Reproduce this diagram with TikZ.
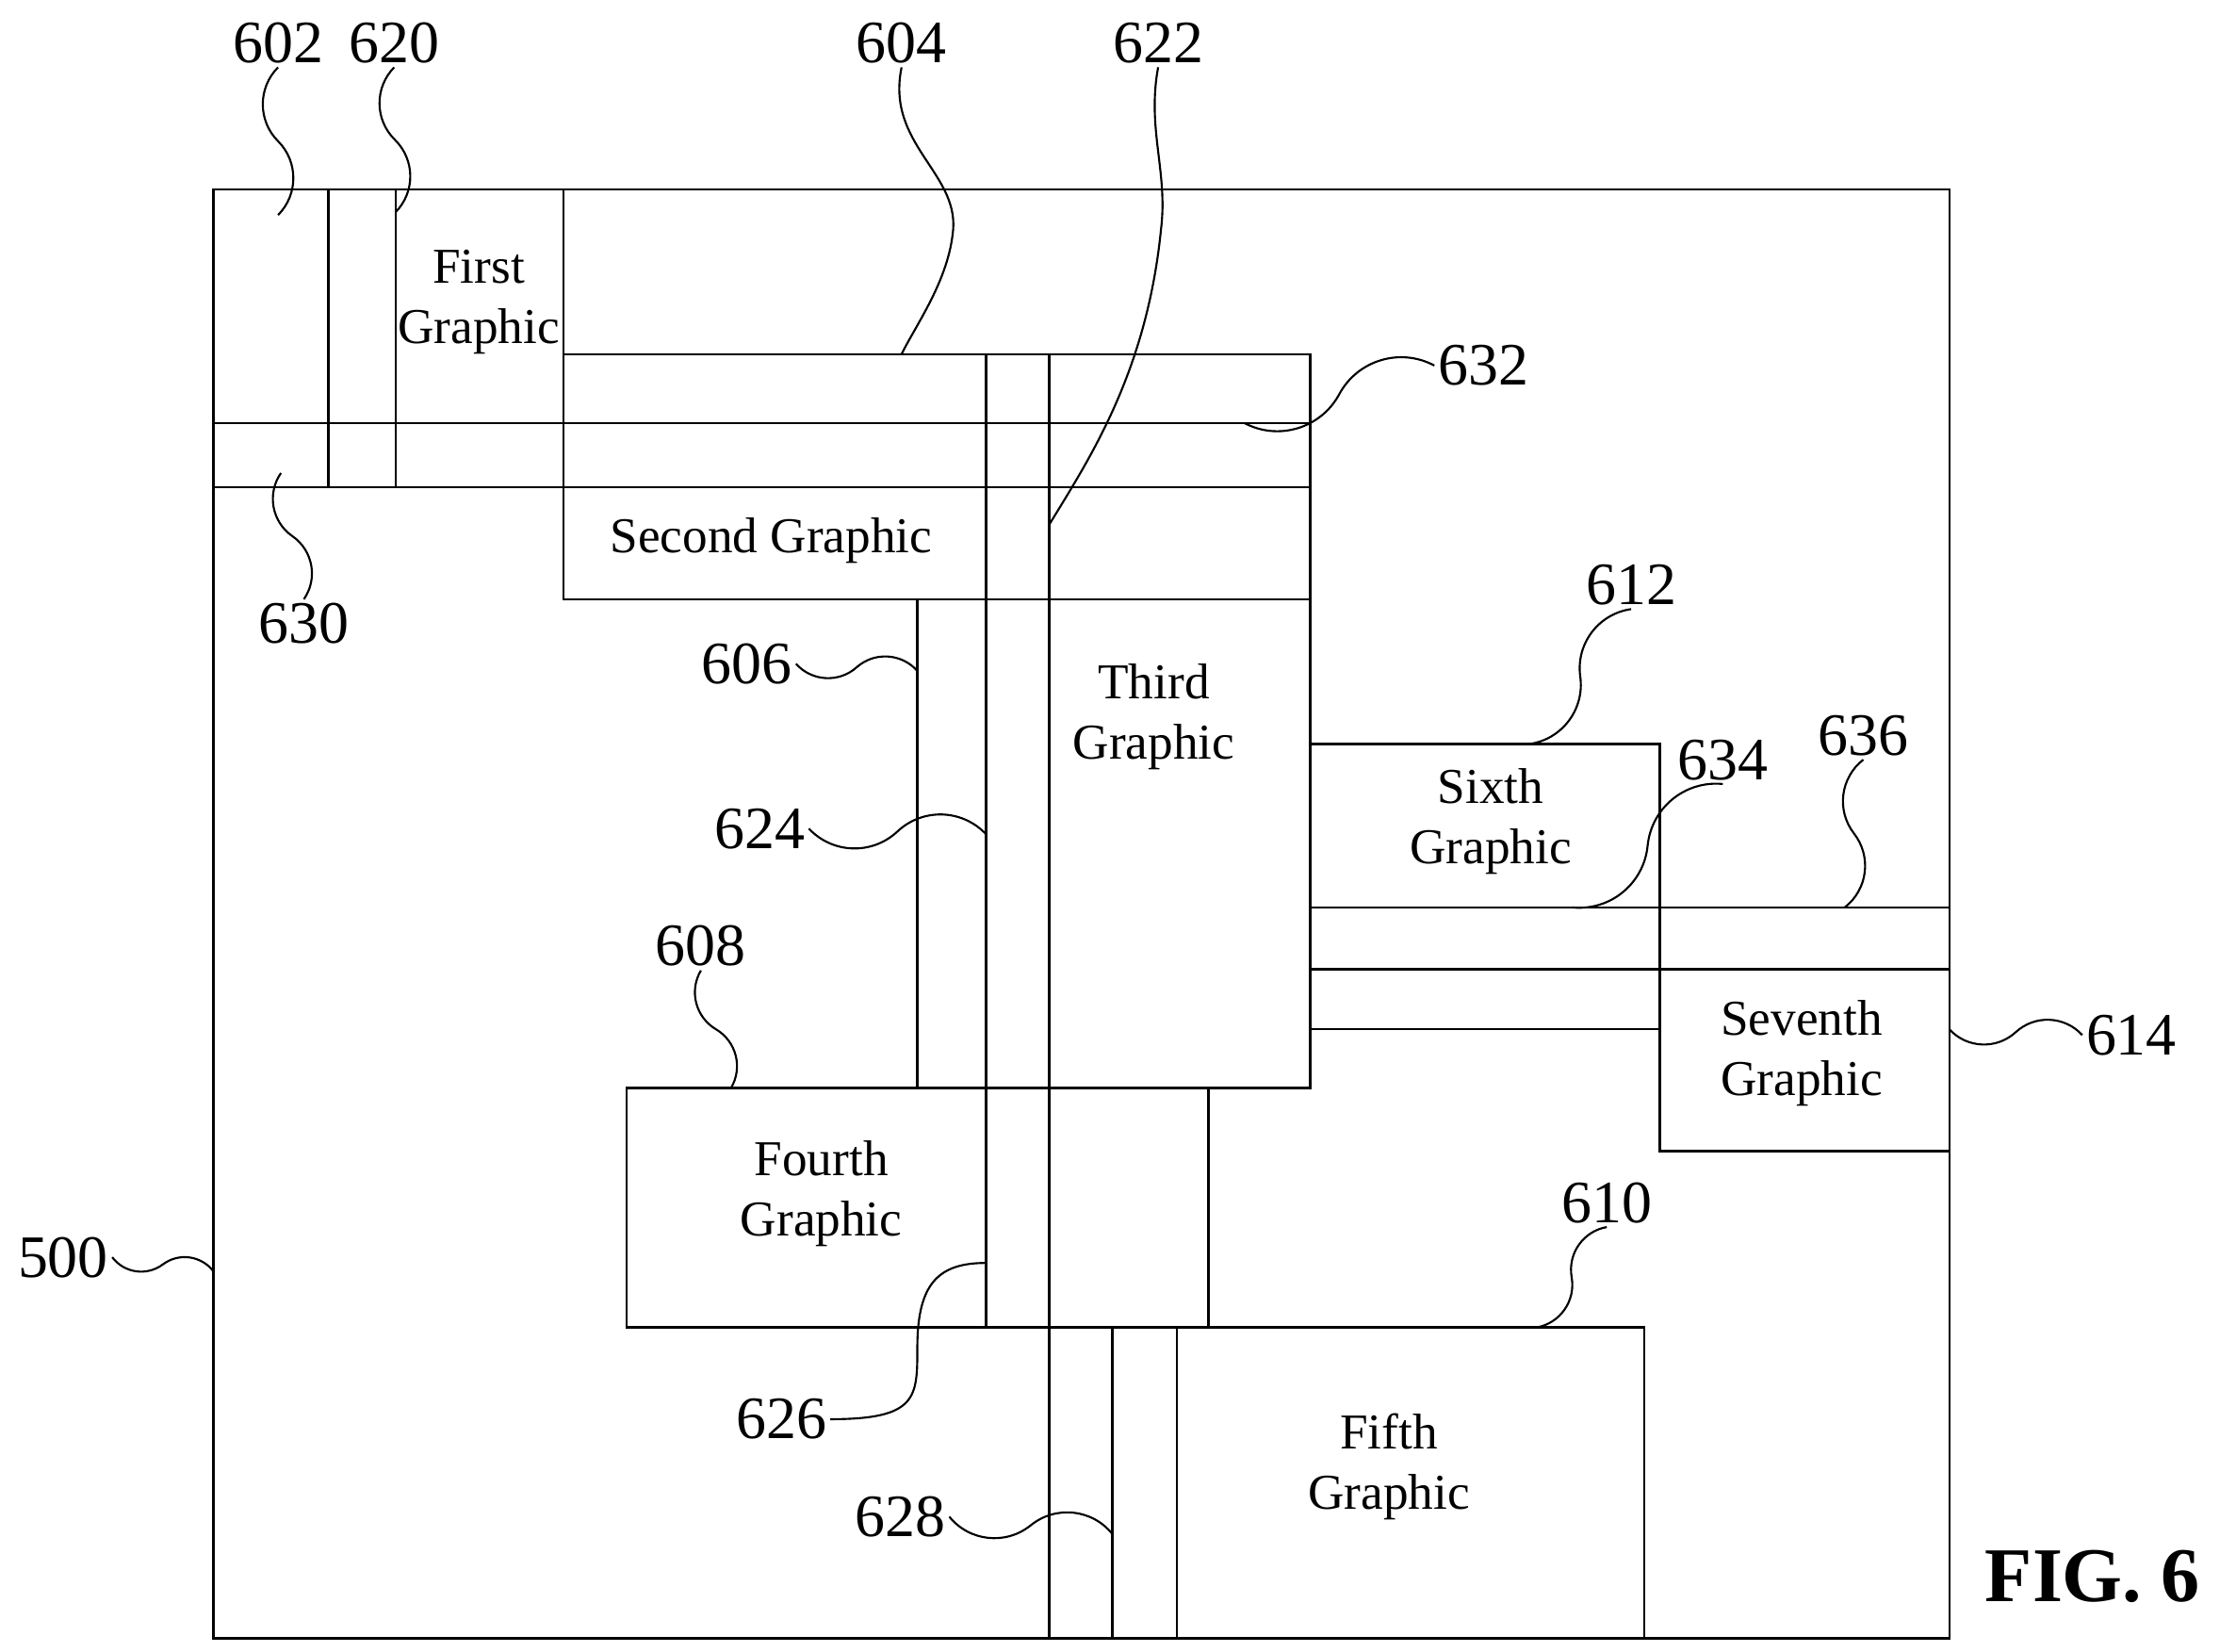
\documentclass[tikz,border=0pt]{standalone}
\usepackage{fontspec}
\setmainfont{Liberation Serif}
\usetikzlibrary{calc}
\tikzset{
  lbl/.style={font=\fontsize{21}{21}\selectfont, inner sep=1pt},
  txt/.style={font=\fontsize{17.5}{21}\selectfont, align=center, inner sep=0pt},
  lead/.style={line width=0.7pt},
}
\newcommand{\squig}[2]{\draw[lead] (#1) to[bend left=45] ($(#1)!.5!(#2)$) to[bend right=45] (#2);}
\begin{document}
\begin{tikzpicture}[x=0.5pt,y=0.5pt,yscale=-1,line width=0.8pt]
\useasboundingbox (0,0) rectangle (1560,1152);

% frame
\draw (149,132) rectangle (1360,1143);

% first graphic region
\draw (229,132) -- (229,340);
\draw (276,132) -- (276,340);
\draw (393,132) -- (393,418);
\draw (149,295) -- (914,295);
\draw (149,340) -- (914,340);
\node[txt] (g1) at (334,211) {First\\Graphic};

% second graphic
\draw (393,247) rectangle (914,418);
\draw (688,247) -- (688,926);
\draw (732,247) -- (732,1143);
\node[txt] (g2) at (538,377) {Second Graphic};

% third graphic
\draw (732,418) rectangle (914,759);
\draw (640,418) -- (640,759);
\node[txt] (g3) at (805,500) {Third\\Graphic};

% fourth graphic
\draw (437,759) rectangle (843,926);
\node[txt] (g4) at (573,833) {Fourth\\Graphic};

% fifth graphic
\draw (821,926) rectangle (1147,1143);
\draw (776,926) -- (776,1143);
\node[txt] (g5) at (969,1023) {Fifth\\Graphic};

% sixth and seventh graphic
\draw (914,519) rectangle (1158,633);
\draw (914,633) -- (1360,633);
\draw (914,676) -- (1360,676);
\draw (914,718) -- (1158,718);
\draw (1158,633) rectangle (1360,803);
\node[txt] (g6) at (1040,573) {Sixth\\Graphic};
\node[txt] (g7) at (1257,735) {Seventh\\Graphic};

% reference labels
\node[lbl] (n602) at (194,30) {602};
\node[lbl] (n620) at (275,30) {620};
\node[lbl] (n604) at (629,30) {604};
\node[lbl] (n622) at (808,30) {622};
\node[lbl] (n632) at (1035,255) {632};
\node[lbl] (n630) at (212,435) {630};
\node[lbl] (n606) at (521,463) {606};
\node[lbl] (n624) at (530,578) {624};
\node[lbl] (n608) at (489,660) {608};
\node[lbl] (n612) at (1138,408) {612};
\node[lbl] (n634) at (1202,530) {634};
\node[lbl] (n636) at (1300,513) {636};
\node[lbl] (n614) at (1487,722) {614};
\node[lbl] (n610) at (1121,839) {610};
\node[lbl] (n500) at (44,877) {500};
\node[lbl] (n626) at (545,990) {626};
\node[lbl] (n628) at (628,1058) {628};
\node[font=\bfseries\fontsize{27}{27}\selectfont] (fig) at (1460,1100) {FIG. 6};

% leader ends
\coordinate (e602) at (194,150);
\coordinate (e620) at (276,148);
\coordinate (e604) at (629,247);
\coordinate (e622) at (732,366);
\coordinate (e632) at (868,295);
\coordinate (e630) at (196,330);
\coordinate (e606) at (640,468);
\coordinate (e624) at (688,582);
\coordinate (e608) at (510,759);
\coordinate (e612) at (1067,519);
\coordinate (e634) at (1097,633);
\coordinate (e636) at (1287,633);
\coordinate (e614) at (1360,718);
\coordinate (e610) at (1072,926);
\coordinate (e500) at (149,887);
\coordinate (e626) at (688,881);
\coordinate (e628) at (776,1070);

% leaders
\squig{n602.south}{e602}
\squig{n620.south}{e620}
\draw[lead] (n604.south) .. controls (618,100) and (668,120) .. (665,160)
  .. controls (662,195) and (640,225) .. (e604);
\draw[lead] (n622.south) .. controls (800,90) and (815,120) .. (810,160)
  .. controls (800,260) and (760,320) .. (e622);
\squig{n632.west}{e632}
\squig{n630.north}{e630}
\squig{n606.east}{e606}
\squig{n624.east}{e624}
\squig{n608.south}{e608}
\squig{n612.south}{e612}
\squig{n634.south}{e634}
\squig{n636.south}{e636}
\squig{n614.west}{e614}
\squig{n610.south}{e610}
\squig{n500.east}{e500}
\draw[lead] (n626.east) .. controls (640,990) and (640,975) .. (640,940)
  .. controls (640,895) and (655,881) .. (e626);
\squig{n628.east}{e628}
\end{tikzpicture}
\end{document}
